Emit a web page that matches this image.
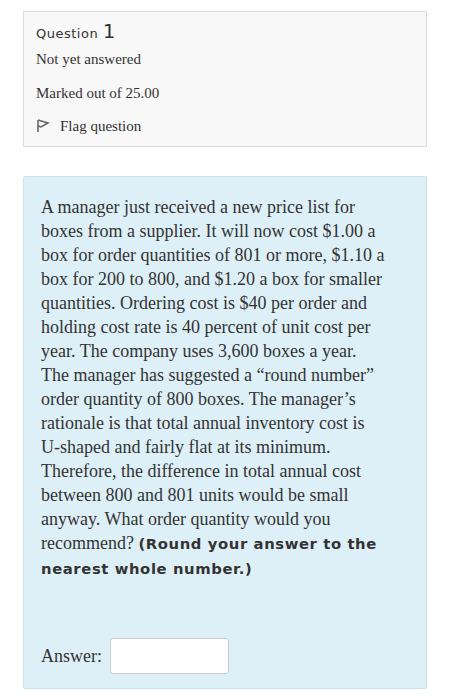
<!DOCTYPE html>
<html>
<head>
<meta charset="utf-8">
<script src="https://cdn.jsdelivr.net/npm/chart.js@4"></script>
<style>
  body { margin: 0; background: #fff; width: 451px; height: 700px; overflow: hidden; font-family: "Liberation Serif", serif; color: #373a3c; }
  .info { position: absolute; left: 23px; top: 11px; width: 402px; height: 134px; background: #f8f8f8; border: 1px solid #dcdcdc; }
  .qno { position: absolute; left: 12px; top: 7px; font-family: "DejaVu Sans", sans-serif; font-size: 13px; letter-spacing: 0.5px; color: #333; }
  .qno b { font-weight: normal; font-size: 20px; }
  .state { position: absolute; left: 12px; font-size: 15px; color: #333; }
  .content { position: absolute; left: 23px; top: 176px; width: 402px; height: 511px; background: #def0f7; border: 1px solid #c8e3ee; border-radius: 2px; }
  .qtext { position: absolute; left: 17px; top: 18px; font-size: 18px; line-height: 24px; color: #333; }
  .qtext strong { font-family: "DejaVu Sans", sans-serif; font-size: 14.8px; letter-spacing: 0.6px; font-weight: bold; }
  .ans { position: absolute; left: 17px; top: 469px; font-size: 18px; color: #333; }
  .box { position: absolute; left: 86px; top: 461px; width: 117px; height: 34px; background: #fff; border: 1px solid #ccc; border-radius: 3px; }
</style>
</head>
<body>
<div class="info">
  <div class="qno">Question <b>1</b></div>
  <div class="state" style="top:39px">Not yet answered</div>
  <div class="state" style="top:73px">Marked out of 25.00</div>
  <div class="state" style="top:106px">
    <svg width="14" height="14" viewBox="0 0 14 14" style="vertical-align:-2px;margin-right:10px"><path d="M2 1 L2 13 M2 1 L12 4 L5 8 L2 7" fill="none" stroke="#666" stroke-width="1.6"/></svg>Flag question</div>
</div>
<div class="content">
  <div class="qtext" id="qtext"></div>
  <div class="ans">Answer:</div>
  <div class="box"></div>
</div>
<script>
const questionLines = [
  "A manager just received a new price list for",
  "boxes from a supplier. It will now cost $1.00 a",
  "box for order quantities of 801 or more, $1.10 a",
  "box for 200 to 800, and $1.20 a box for smaller",
  "quantities. Ordering cost is $40 per order and",
  "holding cost rate is 40 percent of unit cost per",
  "year. The company uses 3,600 boxes a year.",
  "The manager has suggested a \u201cround number\u201d",
  "order quantity of 800 boxes. The manager\u2019s",
  "rationale is that total annual inventory cost is",
  "U-shaped and fairly flat at its minimum.",
  "Therefore, the difference in total annual cost",
  "between 800 and 801 units would be small",
  "anyway. What order quantity would you",
  "recommend? <strong>(Round your answer to the</strong>",
  "<strong>nearest whole number.)</strong>"
];
document.getElementById('qtext').innerHTML = questionLines.join('<br>');
</script>
</body>
</html>
